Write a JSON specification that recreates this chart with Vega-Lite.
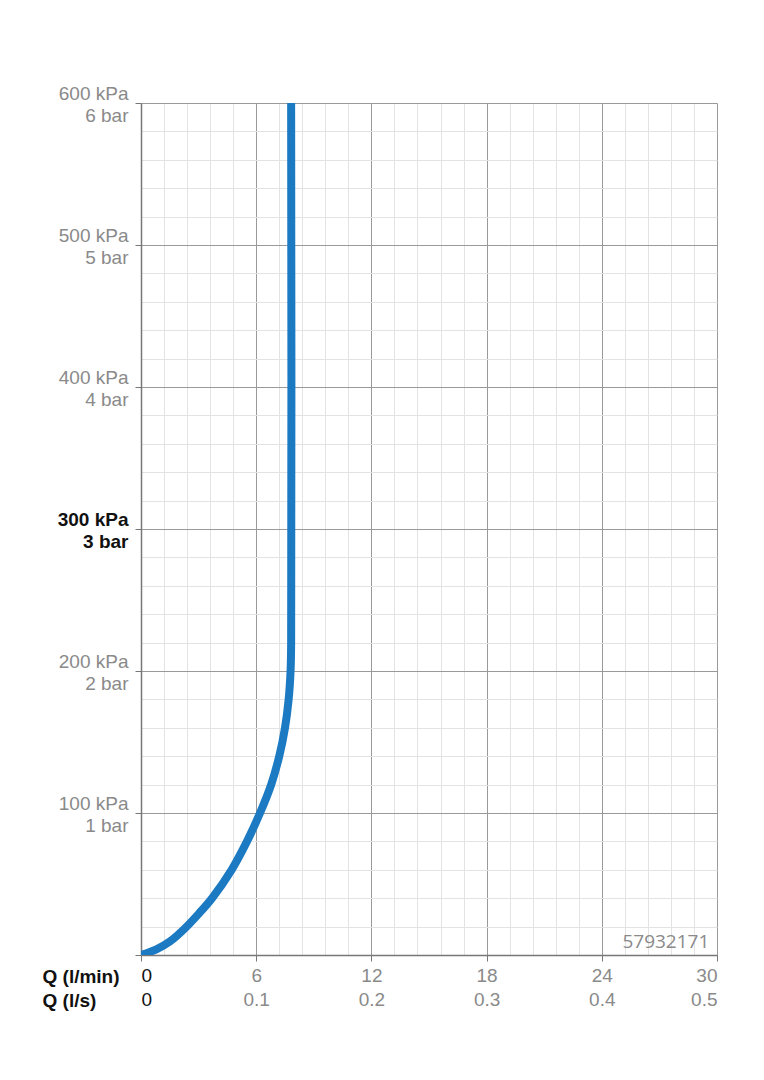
{
  "$schema": "https://vega.github.io/schema/vega-lite/v6.json",
  "width": 576,
  "height": 852,
  "autosize": {"type": "none"},
  "padding": {"left": 141, "top": 103, "right": 47, "bottom": 125},
  "background": "white",
  "config": {"view": {"stroke": null}},
  "layer": [
    {
      "data": {"values": [
        {"q": 0, "p": 0}, {"q": 0.8, "p": 4}, {"q": 1.5, "p": 9.5}, {"q": 2.3, "p": 19},
        {"q": 3.0, "p": 29}, {"q": 3.7, "p": 40}, {"q": 4.72, "p": 60}, {"q": 5.52, "p": 80},
        {"q": 6.2, "p": 100}, {"q": 6.78, "p": 120}, {"q": 7.2, "p": 140},
        {"q": 7.5, "p": 160}, {"q": 7.69, "p": 180}, {"q": 7.79, "p": 200},
        {"q": 7.82, "p": 220}, {"q": 7.82, "p": 600}
      ]},
      "mark": {"type": "line", "color": "#1b7ac2", "strokeWidth": 8, "interpolate": "catmull-rom", "strokeCap": "round", "clip": true},
      "encoding": {
        "x": {
          "field": "q", "type": "quantitative",
          "scale": {"domain": [0, 30], "nice": false, "zero": true},
          "axis": {
            "values": [0,1.2,2.4,3.6,4.8,6,7.2,8.4,9.6,10.8,12,13.2,14.4,15.6,16.8,18,19.2,20.4,21.6,22.8,24,25.2,26.4,27.6,28.8,30],
            "tickCount": 100,
            "grid": true,
            "gridColor": {"condition": {"test": "datum.value % 6 == 0", "value": "#9a9a9a"}, "value": "#e3e3e3"},
            "gridWidth": 1,
            "domainColor": "#777777",
            "domainWidth": 1.5,
            "tickColor": "#777777",
            "tickSize": 6,
            "tickOpacity": {"condition": {"test": "datum.value % 6 == 0", "value": 1}, "value": 0},
            "labelExpr": "datum.value % 6 == 0 ? ['' + datum.value, '' + (datum.value / 60)] : ''",
            "labelFont": "Liberation Sans",
            "labelFontSize": 19,
            "labelLineHeight": 24,
            "labelColor": {"condition": {"test": "datum.value == 0", "value": "#111111"}, "value": "#8a8a8a"},
            "labelFlush": true,
            "labelOverlap": false,
            "labelPadding": 5,
            "labelBaseline": "top",
            "title": ["Q (l/min)", "Q (l/s)"],
            "titleFont": "Liberation Sans",
            "titleFontSize": 19,
            "titleFontWeight": "bold",
            "titleColor": "#111111",
            "titleLineHeight": 24,
            "titleAlign": "left",
            "titleAnchor": "start",
            "titleBaseline": "top",
            "titleX": -99,
            "titleY": 12
          }
        },
        "y": {
          "field": "p", "type": "quantitative",
          "scale": {"domain": [0, 600], "nice": false},
          "axis": {
            "values": [0,20,40,60,80,100,120,140,160,180,200,220,240,260,280,300,320,340,360,380,400,420,440,460,480,500,520,540,560,580,600],
            "tickCount": 100,
            "grid": true,
            "gridColor": {"condition": {"test": "datum.value % 100 == 0", "value": "#9a9a9a"}, "value": "#e3e3e3"},
            "gridWidth": 1,
            "domainColor": "#777777",
            "domainWidth": 1.5,
            "tickColor": "#777777",
            "tickSize": 6,
            "tickOpacity": {"condition": {"test": "datum.value % 100 == 0", "value": 1}, "value": 0},
            "labelExpr": "datum.value % 100 == 0 && datum.value > 0 ? [datum.value + ' kPa', (datum.value / 100) + ' bar'] : ''",
            "labelFont": "Liberation Sans",
            "labelFontSize": 19,
            "labelLineHeight": 22,
            "labelOffset": -10,
            "labelColor": {"condition": {"test": "datum.value == 300", "value": "#111111"}, "value": "#8a8a8a"},
            "labelFontWeight": {"condition": {"test": "datum.value == 300", "value": "bold"}, "value": "normal"},
            "labelOverlap": false,
            "labelFlush": false,
            "labelPadding": 7,
            "labelBaseline": "middle",
            "title": null
          }
        },
        "order": {"field": "p", "type": "quantitative"}
      }
    },
    {
      "data": {"values": [{"q": 29.6, "p": 5, "t": "57932171"}]},
      "mark": {"type": "text", "align": "right", "baseline": "alphabetic", "font": "Open Sans", "fontSize": 19, "color": "#8a8a8a"},
      "encoding": {
        "x": {"field": "q", "type": "quantitative"},
        "y": {"field": "p", "type": "quantitative"},
        "text": {"field": "t"}
      }
    }
  ]
}
